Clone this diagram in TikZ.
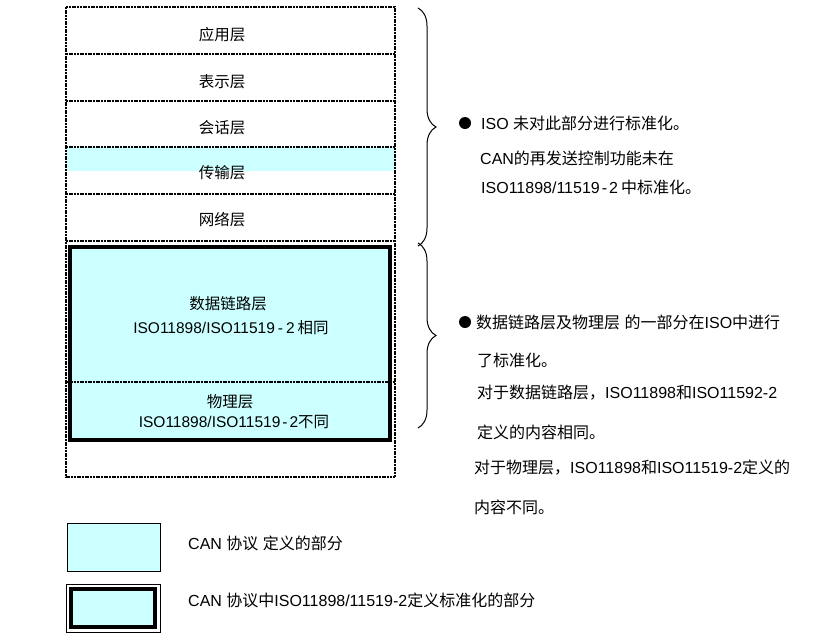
\documentclass[tikz,border=0pt]{standalone}
\usepackage{fontspec}
\setmainfont{Liberation Sans}
\newfontfamily\cjkf{Noto Sans CJK SC}
\usetikzlibrary{decorations.pathreplacing}
\definecolor{canc}{HTML}{CCFFFF}
\XeTeXinterchartokenstate=1
\newXeTeXintercharclass\CJKcls
\newcount\cjkcnt
\def\cjkrange#1#2{\cjkcnt=#1\relax\loop\XeTeXcharclass\cjkcnt=\CJKcls\relax\ifnum\cjkcnt<#2\relax\advance\cjkcnt by 1\relax\repeat}
\cjkrange{"4E00}{"9FFF}
\cjkrange{"3000}{"303F}
\cjkrange{"FF00}{"FFEF}
\XeTeXinterchartoks 0 \CJKcls = {\begingroup\cjkf}
\XeTeXinterchartoks 4095 \CJKcls = {\begingroup\cjkf}
\XeTeXinterchartoks \CJKcls 0 = {\endgroup}
\XeTeXinterchartoks \CJKcls 4095 = {\endgroup}
\begin{document}
\begin{tikzpicture}[x=1pt,y=-1pt,
  dashline/.style={line width=1.3pt,dash pattern=on 2pt off 0.7pt},
  thickbox/.style={line width=4.8pt},
  lbl/.style={inner sep=0pt,font=\fontsize{15.5pt}{18pt}\selectfont},
  rtxt/.style={inner sep=0pt,anchor=west,font=\fontsize{16pt}{19pt}\selectfont},
  brc/.style={decorate,decoration={brace,amplitude=18pt},line width=1pt}]
\useasboundingbox (0,0) rectangle (840,638);
% fills
\fill[canc] (67,147) rectangle (395,171);
\fill[canc] (70,247) rectangle (390,440);
% outer stack
\draw[dashline] (66,7) rectangle (395,477);
\foreach \yy in {54,101,147,194,241} \draw[dashline] (66,\yy) -- (395,\yy);
\draw[dashline] (66,382) -- (395,382);
\draw[thickbox] (70,247) rectangle (390,440);
% layer labels
\node[lbl] (app) at (222,35) {应用层};
\node[lbl] (pre) at (222,82) {表示层};
\node[lbl] (ses) at (222,128) {会话层};
\node[lbl] (tra) at (222,173) {传输层};
\node[lbl] (net) at (222,220) {网络层};
\node[lbl] (dl1) at (228,304) {数据链路层};
\node[lbl] (dl2) at (231,328) {ISO11898/ISO11519\kern3pt-\kern3pt2\kern3pt相同};
\node[lbl] (ph1) at (230,402) {物理层};
\node[lbl] (ph2) at (234,422) {ISO11898/ISO11519\kern2pt-\kern2pt2不同};
% braces
\draw[brc] (418,8) -- (418,246);
\draw[brc] (418,243) -- (418,428);
% right texts
\node[circle,fill=black,inner sep=0pt,minimum size=12pt] (b1) at (465,123) {};
\node[rtxt] (t1) at (481,123) {ISO 未对此部分进行标准化。};
\node[rtxt] (t2) at (480,158) {CAN的再发送控制功能未在};
\node[rtxt] (t3) at (481,187) {ISO11898/11519\kern2pt-\kern2pt2\kern3pt中标准化。};
\node[circle,fill=black,inner sep=0pt,minimum size=12pt] (b2) at (465,322) {};
\node[rtxt] (t4) at (476,322) {数据链路层及物理层 的一部分在ISO中进行};
\node[rtxt] (t5) at (477,360) {了标准化。};
\node[rtxt] (t6) at (477,393) {对于数据链路层，ISO11898和ISO11592-2};
\node[rtxt] (t7) at (477,432) {定义的内容相同。};
\node[rtxt] (t8) at (474,468) {对于物理层，ISO11898和ISO11519-2定义的};
\node[rtxt] (t9) at (474,507) {内容不同。};
% legend
\draw[fill=canc,line width=0.8pt] (67,523) rectangle (160,571);
\node[rtxt] (l1) at (188,543) {CAN 协议 定义的部分};
\draw[line width=0.6pt] (66,584) rectangle (160,632);
\draw[fill=canc,line width=4.8pt] (71,589) rectangle (155,627);
\node[rtxt] (l2) at (188,600) {CAN 协议中ISO11898/11519-2定义标准化的部分};
\end{tikzpicture}
\end{document}
